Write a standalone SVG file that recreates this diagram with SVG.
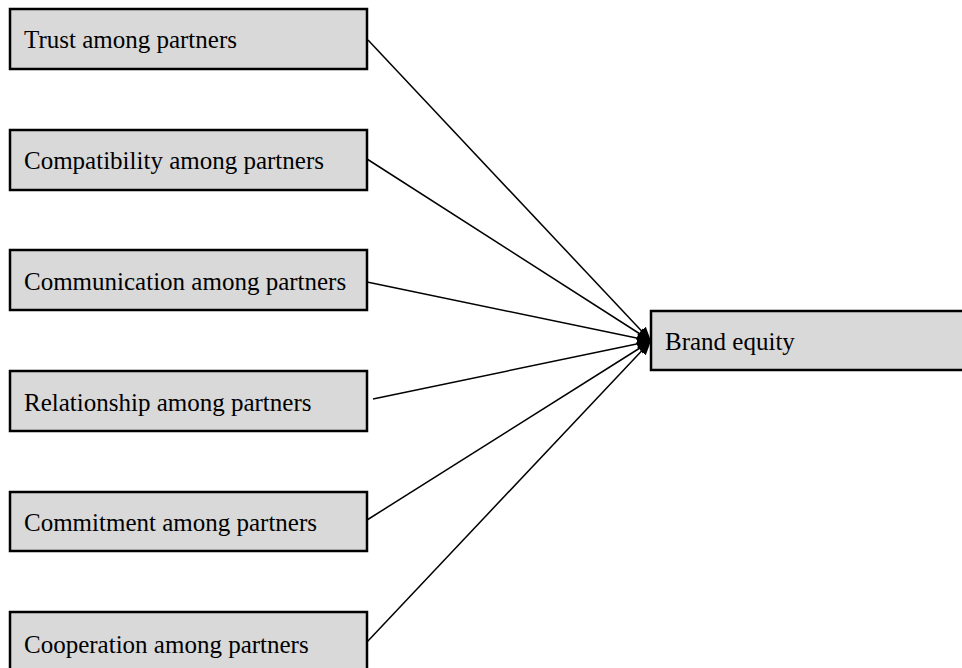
<svg xmlns="http://www.w3.org/2000/svg" width="962" height="668" viewBox="0 0 962 668">
<style>
.box{fill:#d9d9d9;stroke:#000;stroke-width:2.5}
.lbl{font-family:"Liberation Serif","Times New Roman",serif;font-size:25px;fill:#000}
.conn{stroke:#000;stroke-width:1.5;fill:none;marker-end:url(#ah)}
</style>
<defs>
<marker id="ah" markerUnits="userSpaceOnUse" markerWidth="16" markerHeight="14" refX="14" refY="7" orient="auto">
<path d="M0,1 L14,7 L0,13 z" fill="#000"/>
</marker>
</defs>
<rect width="962" height="668" fill="#fff"/>
<g id="connectors">
<line class="conn" x1="368" y1="40" x2="651" y2="341"/>
<line class="conn" x1="367" y1="159" x2="651" y2="341"/>
<line class="conn" x1="367" y1="282" x2="651" y2="341"/>
<line class="conn" x1="373" y1="399" x2="651" y2="341"/>
<line class="conn" x1="367" y1="520" x2="651" y2="341"/>
<line class="conn" x1="367" y1="642" x2="651" y2="341"/>
</g>
<g id="trust"><rect class="box" x="10" y="9" width="357" height="60"/><text class="lbl" x="24" y="48">Trust among partners</text></g>
<g id="compatibility"><rect class="box" x="10" y="130" width="357" height="60"/><text class="lbl" x="24" y="169">Compatibility among partners</text></g>
<g id="communication"><rect class="box" x="10" y="250" width="357" height="60"/><text class="lbl" x="24" y="290">Communication among partners</text></g>
<g id="relationship"><rect class="box" x="10" y="371" width="357" height="60"/><text class="lbl" x="24" y="411">Relationship among partners</text></g>
<g id="commitment"><rect class="box" x="10" y="492" width="357" height="59"/><text class="lbl" x="24" y="531">Commitment among partners</text></g>
<g id="cooperation"><rect class="box" x="10" y="612" width="357" height="64"/><text class="lbl" x="24" y="653">Cooperation among partners</text></g>
<g id="brand"><rect class="box" x="651" y="311" width="320" height="59"/><text class="lbl" x="665" y="350">Brand equity</text></g>
</svg>
